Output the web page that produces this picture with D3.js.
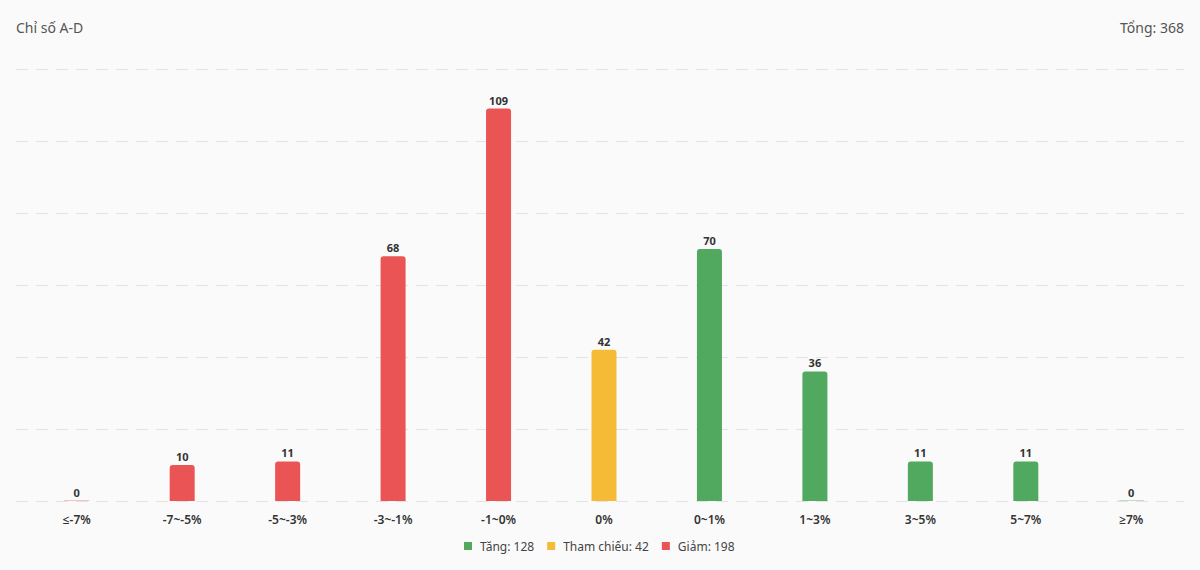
<!DOCTYPE html>
<html><head><meta charset="utf-8">
<script src="https://cdn.jsdelivr.net/npm/d3@7"></script>
<style>html,body{margin:0;padding:0;background:#fafafa;}svg{display:block;font-family:"Noto Sans","Open Sans",sans-serif;}</style>
</head><body><svg id="c" width="1200" height="570"></svg>
<script>
const categories = ["≤-7%","-7~-5%","-5~-3%","-3~-1%","-1~0%","0%","0~1%","1~3%","3~5%","5~7%","≥7%"];
const values = [0,10,11,68,109,42,70,36,11,11,0];
const groups = ["down","down","down","down","down","ref","up","up","up","up","up"];
const legendLabels = ["Tăng: 128","Tham chiếu: 42","Giảm: 198"];
const legendKeys = ["up","ref","down"];
const yTicks = [0,20,40,60,80,100,120];
const title = "Chỉ số A-D";
const totalLabel = "Tổng: 368";

const colors = {up:"#51a85f", ref:"#f5bb36", down:"#eb5454"};
const svg = d3.select("#c");
const x = d3.scaleBand().domain(categories).range([24,1184]);
const y = d3.scaleLinear().domain([0,120]).range([501,69]);
const bw = 25;

svg.append("text").attr("x",16).attr("y",33).attr("font-size",14).attr("fill","#555").text(title);
svg.append("text").attr("x",1184).attr("y",33).attr("text-anchor","end").attr("font-size",14).attr("fill","#555").text(totalLabel);

svg.append("g").selectAll("line").data(yTicks).join("line")
  .attr("x1",16).attr("x2",1184).attr("y1",d=>Math.round(y(d))+0.5).attr("y2",d=>Math.round(y(d))+0.5)
  .attr("stroke","#e3e3e3").attr("stroke-width",1).attr("stroke-dasharray","12,8");

function barPath(cx, top, bottom, w, r){
  const h = bottom-top; r = Math.min(r, h, w/2);
  const l = cx-w/2, rr = cx+w/2;
  return `M${l},${bottom}V${top+r}Q${l},${top} ${l+r},${top}H${rr-r}Q${rr},${top} ${rr},${top+r}V${bottom}Z`;
}
const g = svg.append("g");
categories.forEach((c,i)=>{
  const cx = x(c)+x.bandwidth()/2;
  const v = values[i];
  if(v>0){
    g.append("path").attr("d",barPath(cx,y(v),y(0),bw,3)).attr("fill",colors[groups[i]]);
  } else {
    g.append("rect").attr("x",cx-bw/2).attr("y",y(0)-1).attr("width",bw).attr("height",1).attr("fill",colors[groups[i]]).attr("opacity",0.35);
  }
  g.append("text").attr("x",cx).attr("y",y(v)-4).attr("text-anchor","middle").attr("font-size",11).attr("font-weight","bold").attr("fill","#333").text(v);
  g.append("text").attr("x",cx).attr("y",524).attr("text-anchor","middle").attr("font-size",12).attr("font-weight",600).attr("fill","#333").text(c);
});

// legend
const lg = svg.append("g");
let lx = 464;
legendKeys.forEach((k,i)=>{
  lg.append("rect").attr("x",lx).attr("y",542).attr("width",8).attr("height",8).attr("fill",colors[k]);
  const t = lg.append("text").attr("x",lx+16).attr("y",551).attr("font-size",12).attr("fill","#444").text(legendLabels[i]);
  lx += 16 + t.node().getComputedTextLength() + 13;
});
</script></body></html>
